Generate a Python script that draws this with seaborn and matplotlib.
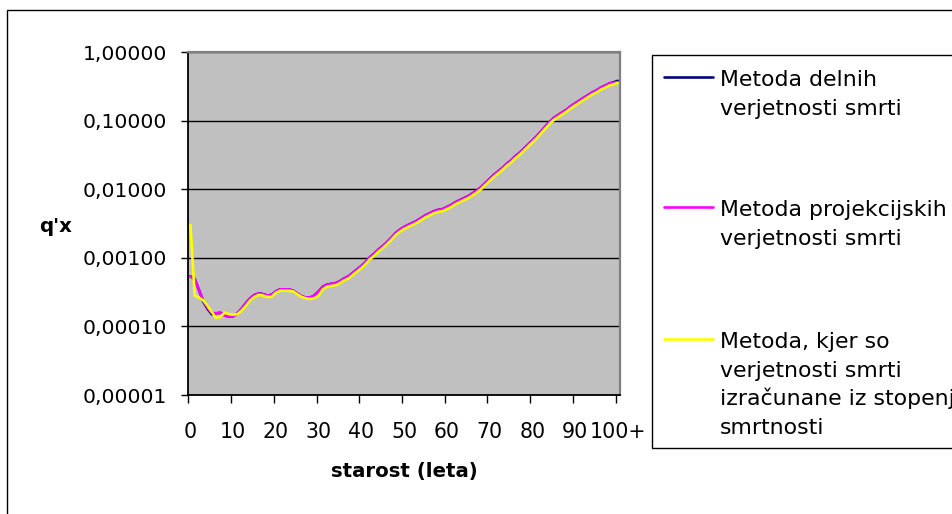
import matplotlib
matplotlib.use("Agg")
import numpy as np
import pandas as pd
import seaborn as sns
import matplotlib.pyplot as plt
from matplotlib.patches import Rectangle
from matplotlib.lines import Line2D
from matplotlib.ticker import FixedLocator, FuncFormatter, NullLocator, NullFormatter, FixedFormatter

# age groups 0 .. 100+
ages = list(range(101))
age_tick_labels = ["0", "10", "20", "30", "40", "50", "60", "70", "80", "90", "100+"]
y_ticks = [1e-5, 1e-4, 1e-3, 1e-2, 1e-1, 1.0]

series_names = [
    "Metoda delnih\nverjetnosti smrti",
    "Metoda projekcijskih\nverjetnosti smrti",
    "Metoda, kjer so\nverjetnosti smrti\nizračunane iz stopenj\nsmrtnosti",
]
series_colors = ["#000080", "#FF00FF", "#FFFF00"]

# q'x, method of partial death probabilities
q_delne = [
    5.37e-4, 4.90e-4, 3.39e-4, 2.30e-4, 1.80e-4, 1.50e-4, 1.55e-4, 1.58e-4, 1.45e-4, 1.38e-4,
    1.41e-4, 1.55e-4, 1.82e-4, 2.19e-4, 2.57e-4, 2.88e-4, 3.02e-4, 2.95e-4, 2.82e-4, 2.88e-4,
    3.24e-4, 3.47e-4, 3.47e-4, 3.47e-4, 3.31e-4, 3.02e-4, 2.75e-4, 2.63e-4, 2.63e-4, 2.82e-4,
    3.24e-4, 3.80e-4, 4.07e-4, 4.17e-4, 4.27e-4, 4.57e-4, 5.01e-4, 5.37e-4, 6.03e-4, 6.76e-4,
    7.59e-4, 8.70e-4, 1.02e-3, 1.15e-3, 1.32e-3, 1.48e-3, 1.69e-3, 1.95e-3, 2.29e-3, 2.57e-3,
    2.81e-3, 3.02e-3, 3.23e-3, 3.47e-3, 3.80e-3, 4.16e-3, 4.46e-3, 4.78e-3, 5.01e-3, 5.13e-3,
    5.49e-3, 5.89e-3, 6.45e-3, 6.91e-3, 7.40e-3, 7.93e-3, 8.70e-3, 9.53e-3, 1.07e-2, 1.23e-2,
    1.41e-2, 1.62e-2, 1.82e-2, 2.04e-2, 2.34e-2, 2.62e-2, 3.02e-2, 3.38e-2, 3.88e-2, 4.46e-2,
    5.13e-2, 5.89e-2, 6.91e-2, 8.12e-2, 9.53e-2, 0.109, 0.120, 0.132, 0.144, 0.162,
    0.178, 0.195, 0.214, 0.234, 0.257, 0.275, 0.302, 0.323, 0.347, 0.362,
    0.380,
]

# q'x, method of projected death probabilities
q_projekcijske = [
    5.37e-4, 4.90e-4, 3.39e-4, 2.40e-4, 1.86e-4, 1.58e-4, 1.55e-4, 1.58e-4, 1.45e-4, 1.38e-4,
    1.41e-4, 1.55e-4, 1.82e-4, 2.19e-4, 2.57e-4, 2.88e-4, 3.02e-4, 2.95e-4, 2.82e-4, 2.88e-4,
    3.24e-4, 3.47e-4, 3.47e-4, 3.47e-4, 3.31e-4, 3.02e-4, 2.75e-4, 2.63e-4, 2.63e-4, 2.82e-4,
    3.24e-4, 3.80e-4, 4.07e-4, 4.17e-4, 4.27e-4, 4.57e-4, 5.01e-4, 5.37e-4, 6.03e-4, 6.76e-4,
    7.59e-4, 8.70e-4, 1.02e-3, 1.15e-3, 1.32e-3, 1.48e-3, 1.69e-3, 1.95e-3, 2.29e-3, 2.57e-3,
    2.81e-3, 3.02e-3, 3.23e-3, 3.47e-3, 3.80e-3, 4.16e-3, 4.46e-3, 4.78e-3, 5.01e-3, 5.13e-3,
    5.49e-3, 5.89e-3, 6.45e-3, 6.91e-3, 7.40e-3, 7.93e-3, 8.70e-3, 9.53e-3, 1.07e-2, 1.23e-2,
    1.41e-2, 1.62e-2, 1.82e-2, 2.04e-2, 2.34e-2, 2.62e-2, 3.02e-2, 3.38e-2, 3.88e-2, 4.46e-2,
    5.13e-2, 5.89e-2, 6.91e-2, 8.12e-2, 9.53e-2, 0.109, 0.120, 0.132, 0.144, 0.162,
    0.178, 0.195, 0.214, 0.234, 0.257, 0.275, 0.302, 0.323, 0.347, 0.355,
    0.365,
]

# q'x, derived from mortality rates
q_stopnje = [
    3.02e-3, 2.82e-4, 2.63e-4, 2.40e-4, 2.00e-4, 1.62e-4, 1.32e-4, 1.38e-4, 1.58e-4, 1.51e-4,
    1.48e-4, 1.51e-4, 1.70e-4, 2.00e-4, 2.40e-4, 2.69e-4, 2.88e-4, 2.82e-4, 2.69e-4, 2.69e-4,
    3.09e-4, 3.31e-4, 3.31e-4, 3.31e-4, 3.24e-4, 2.95e-4, 2.69e-4, 2.57e-4, 2.51e-4, 2.57e-4,
    2.82e-4, 3.47e-4, 3.80e-4, 3.89e-4, 3.98e-4, 4.27e-4, 4.68e-4, 5.01e-4, 5.62e-4, 6.31e-4,
    7.08e-4, 8.13e-4, 9.55e-4, 1.07e-3, 1.23e-3, 1.38e-3, 1.58e-3, 1.82e-3, 2.14e-3, 2.40e-3,
    2.63e-3, 2.82e-3, 3.02e-3, 3.24e-3, 3.55e-3, 3.89e-3, 4.17e-3, 4.47e-3, 4.68e-3, 4.79e-3,
    5.13e-3, 5.50e-3, 6.03e-3, 6.46e-3, 6.92e-3, 7.41e-3, 8.13e-3, 8.91e-3, 1.00e-2, 1.15e-2,
    1.32e-2, 1.51e-2, 1.70e-2, 1.91e-2, 2.19e-2, 2.45e-2, 2.82e-2, 3.16e-2, 3.63e-2, 4.17e-2,
    4.79e-2, 5.50e-2, 6.46e-2, 7.59e-2, 8.91e-2, 0.102, 0.112, 0.123, 0.135, 0.151,
    0.166, 0.182, 0.200, 0.219, 0.240, 0.257, 0.282, 0.302, 0.324, 0.339,
    0.355,
]

W, H = 953, 514
FS_Y = 14.6
FS_X = 14.8
FS_LEG = 15.8
FS_BOLD = 14.2


def fx(px):
    return px / W


def fy(py):
    return 1 - py / H


sns.set_theme(style="white")
plt.rcParams["font.family"] = ["DejaVu Sans"]
plt.rcParams["text.color"] = "black"

frames = []
for name, vals in zip(series_names, [q_delne, q_projekcijske, q_stopnje]):
    frames.append(pd.DataFrame({"pos": np.array(ages) + 0.5, "q": vals, "metoda": name}))
df = pd.concat(frames, ignore_index=True)

fig = plt.figure(figsize=(W / 100, H / 100), dpi=100)
fig.patch.set_facecolor("white")

ax_left, ax_right, ax_top, ax_bottom = 188.3, 620.0, 52.0, 395.0
ax = fig.add_axes([fx(ax_left), fy(ax_bottom), (ax_right - ax_left) / W, (ax_bottom - ax_top) / H])
ax.set_facecolor("#C0C0C0")

sns.lineplot(
    data=df, x="pos", y="q", hue="metoda", hue_order=series_names,
    palette=series_colors, linewidth=1.9, legend=False, ax=ax,
    estimator=None, sort=False,
)

ax.set_yscale("log")
ax.set_ylim(1e-5, 1.0)
ax.set_xlim(0, 101)

ax.yaxis.set_major_locator(FixedLocator(y_ticks))
ax.yaxis.set_minor_locator(NullLocator())
ax.yaxis.set_major_formatter(FuncFormatter(lambda v, p: f"{v:.5f}".replace(".", ",")))
ax.yaxis.grid(True, color="black", linewidth=1.0)
ax.xaxis.grid(False)
ax.set_axisbelow(True)

# tick marks between age groups, labels centred on groups
ax.xaxis.set_major_locator(FixedLocator(list(range(0, 101, 10))))
ax.xaxis.set_major_formatter(NullFormatter())
ax.xaxis.set_minor_locator(FixedLocator([a + 0.5 for a in range(0, 101, 10)]))
ax.xaxis.set_minor_formatter(FixedFormatter(age_tick_labels))

ax.tick_params(axis="y", which="major", direction="out", length=5, width=1, color="black",
               pad=10.5, labelsize=FS_Y, labelcolor="black", left=True)
ax.tick_params(axis="x", which="major", direction="out", length=5.8, width=1, color="black",
               bottom=True)
ax.tick_params(axis="x", which="minor", length=0, pad=19.5, labelsize=FS_X, labelcolor="black",
               bottom=True)

ax.set_xlabel("")
ax.set_ylabel("")

for side in ["left", "bottom"]:
    ax.spines[side].set_color("black")
    ax.spines[side].set_linewidth(1.3)
for side in ["top", "right"]:
    ax.spines[side].set_color("#808080")
    ax.spines[side].set_linewidth(1.6)

fig.text(fx(55.5), fy(227), "q'x", ha="center", va="center", fontsize=FS_BOLD,
         fontweight="bold", color="black")
fig.text(fx(404), fy(472), "starost (leta)", ha="center", va="center", fontsize=FS_BOLD,
         fontweight="bold", color="black")

# chart frame (continues past the right and bottom edges)
fig.add_artist(Rectangle((fx(7.5), fy(540)), fx(1000), (540 - 10) / H, transform=fig.transFigure,
                         facecolor="none", edgecolor="black", linewidth=1.0, clip_on=False,
                         zorder=0))

# legend box
fig.add_artist(Rectangle((fx(652), fy(448)), fx(400), (448 - 55) / H, transform=fig.transFigure,
                         facecolor="white", edgecolor="black", linewidth=1.0, clip_on=False,
                         zorder=1))
entry_baselines = [86, 216, 348]
line_step = 28.7
for name, color, base in zip(series_names, series_colors, entry_baselines):
    yl = base - 9
    fig.add_artist(Line2D([fx(664), fx(713)], [fy(yl), fy(yl)], transform=fig.transFigure,
                          color=color, linewidth=1.9, zorder=2))
    for i, line in enumerate(name.split("\n")):
        fig.text(fx(720), fy(base + i * line_step), line, ha="left", va="baseline",
                 fontsize=FS_LEG, color="black", zorder=2)

fig.savefig("out.png", dpi=100, facecolor="white")
